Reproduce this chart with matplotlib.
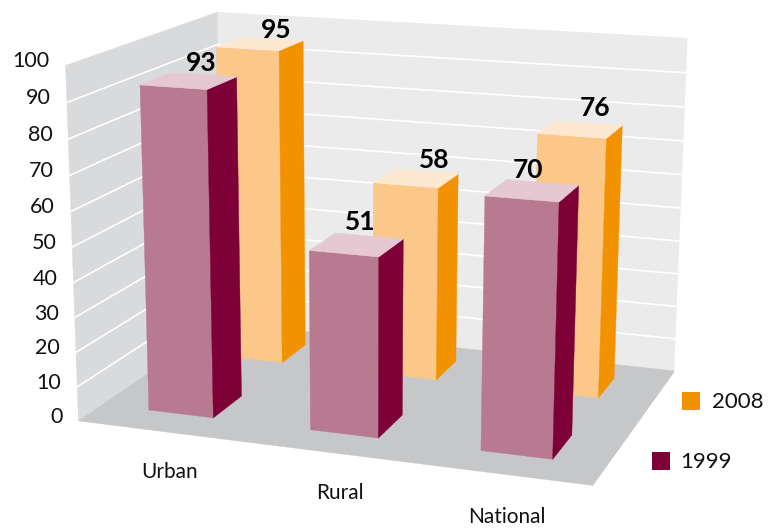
import numpy as np, matplotlib
matplotlib.use('Agg')
import matplotlib.pyplot as plt
from matplotlib.patches import Polygon, Rectangle

categories = ['Urban', 'Rural', 'National']
values_1999 = [93, 51, 70]
values_2008 = [95, 58, 76]
z_ticks = [0, 10, 20, 30, 40, 50, 60, 70, 80, 90, 100]

# camera calibration: chart-space corners -> pixels
calib3 = [(0,0,0),(0,0,100),(0,1,100),(0,1,0),(3,0,0),(3,1,0),(3,1,100)]
calib2 = [(79,418),(65,66),(218,11),(222,326),(593,488),(675,368),(688,39)]
A = []
for (X,Y,Z),(u,v) in zip(calib3, calib2):
    A.append([X,Y,Z,1,0,0,0,0,-u*X,-u*Y,-u*Z,-u])
    A.append([0,0,0,0,X,Y,Z,1,-v*X,-v*Y,-v*Z,-v])
P = np.linalg.svd(np.array(A, float))[2][-1].reshape(3,4)

def proj(x, y, z):
    q = P @ np.array([x, y, z, 1.0])
    return q[0]/q[2], q[1]/q[2]

plt.rcParams['font.family'] = ['Lato', 'DejaVu Sans']
fig = plt.figure(figsize=(7.68,5.28), dpi=100)
ax = fig.add_axes([0,0,1,1])
ax.set_xlim(0,768); ax.set_ylim(528,0); ax.axis('off')

def quad(corners, color, zorder=1):
    ax.add_patch(Polygon([proj(*c) for c in corners], closed=True, fc=color,
                         ec=color, lw=0.3, zorder=zorder))

quad([(0,1,0),(3,1,0),(3,1,100),(0,1,100)], '#ebebeb')
quad([(0,0,0),(0,1,0),(0,1,100),(0,0,100)], '#d9dadc')
quad([(0,0,0),(3,0,0),(3,1,0),(0,1,0)], '#c6c7c9')

for t in z_ticks[1:-1]:
    pts = [proj(0,0,t), proj(0,1,t), proj(3,1,t)]
    ax.plot(*zip(*pts), color='white', lw=1.2, zorder=2, solid_joinstyle='miter')
ax.plot(*zip(proj(3,1,0), proj(3,1,100)), color='white', lw=1, zorder=2)

for t in z_ticks:
    x, y = proj(0,0,t)
    ax.text(x-16, y-4, str(t), ha='right', va='center', fontsize=15.5, color='#111111', zorder=6)

def bar(i, dx, y0, y1, v, front, side, top, zorder):
    x0, x1 = i+0.295+dx, i+0.70+dx
    quad([(x0,y0,0),(x1,y0,0),(x1,y0,v),(x0,y0,v)], front, zorder)
    quad([(x1,y0,0),(x1,y1,0),(x1,y1,v),(x1,y0,v)], side, zorder)
    quad([(x0,y0,v),(x1,y0,v),(x1,y1,v),(x0,y1,v)], top, zorder)

for i, v in enumerate(values_2008):
    bar(i, -0.015, 0.68, 0.87, v, '#fbc88a', '#f39200', '#fee8d2', 3)
for i, v in enumerate(values_1999):
    bar(i, 0, 0.15, 0.35, v, '#b87a90', '#7d0037', '#e5c8d2', 4)

off_1999 = [(14,-18),(5,-23),(-3,-20)]
off_2008 = [(15,-14),(17,-18),(14,-22)]
for vals, offs, (y0,y1) in ((values_1999, off_1999, (0.15,0.35)), (values_2008, off_2008, (0.68,0.87))):
    for i, (v, o) in enumerate(zip(vals, offs)):
        x, y = proj(i+0.49, (y0+y1)/2, v)
        ax.text(x+o[0], y+o[1], str(v), ha='center', va='center', fontsize=19,
                fontweight='bold', color='black', zorder=7)

cat_pos = [(170,472),(340,493),(507,517)]
for c, (x, y) in zip(categories, cat_pos):
    ax.text(x, y, c, ha='center', va='center', fontsize=15, color='#111111')

legend = [('2008', '#f39200', 682, 392, 30), ('1999', '#7d0037', 652, 452, 28)]
for lab, col, x, y, gap in legend:
    ax.add_patch(Rectangle((x,y), 18, 18, fc=col, ec='none'))
    ax.text(x+gap, y+9.5, lab, ha='left', va='center', fontsize=16, color='#111111')

fig.savefig('out.png', dpi=100)
